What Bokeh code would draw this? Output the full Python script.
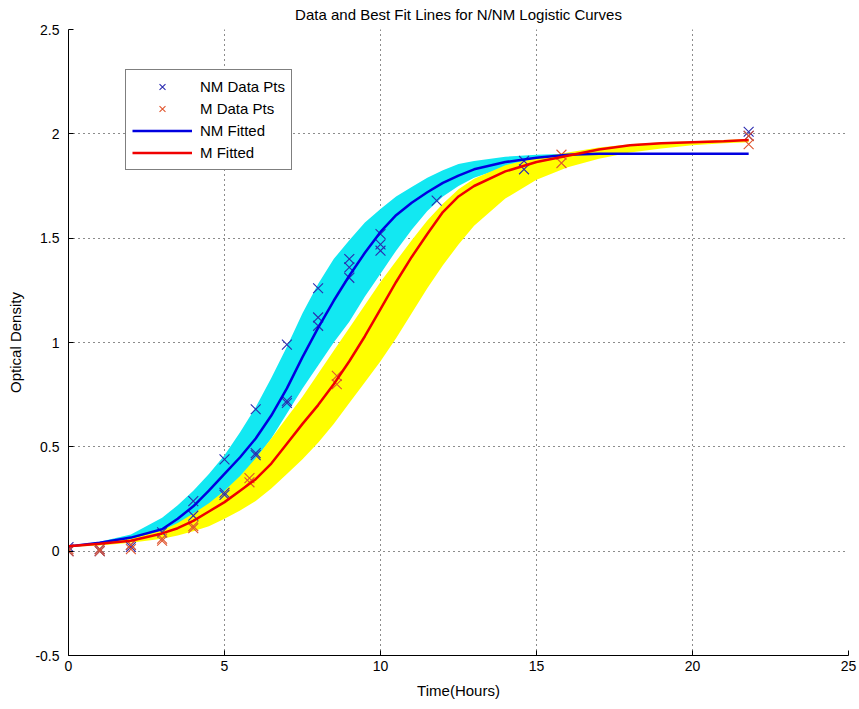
from bokeh.plotting import figure
from bokeh.models import (Range1d, FixedTicker, CustomJSTickFormatter, Legend, LegendItem)
from bokeh.embed import file_html
from bokeh.resources import INLINE

# ---------------- data ----------------
title = "Data and Best Fit Lines for N/NM Logistic Curves"
x_label = "Time(Hours)"
y_label = "Optical Density"
x_ticks = [0, 5, 10, 15, 20, 25]
y_ticks = [-0.5, 0, 0.5, 1, 1.5, 2, 2.5]

# measured data points (replicates share the same time)
nm_t = [0, 0, 1, 1, 2, 2, 3, 4, 4, 5, 5, 5, 6, 6, 6, 7, 7, 7, 8, 8, 8,
        9, 9, 9, 10, 10, 10, 11.8, 14.6, 14.6, 21.8, 21.8]
nm_od = [0.02, 0.0, 0.0, 0.01, 0.03, 0.02, 0.09, 0.24, 0.17, 0.44, 0.28, 0.27,
         0.68, 0.47, 0.46, 0.99, 0.72, 0.71, 1.26, 1.12, 1.08,
         1.40, 1.36, 1.31, 1.52, 1.47, 1.44, 1.68, 1.87, 1.83, 2.01, 1.99]

m_t = [0, 0, 1, 1, 2, 2, 3, 3, 4, 4, 5.8, 5.8, 8.6, 8.6, 15.8, 15.8, 21.8, 21.8]
m_od = [0.0, 0.01, 0.0, 0.01, 0.03, 0.01, 0.06, 0.05, 0.12, 0.11, 0.35, 0.33,
        0.84, 0.80, 1.90, 1.86, 1.99, 1.95]

# fitted curves and their bands, read at these times
fit_t = [0, 1, 2, 3, 3.5, 4, 4.5, 5, 5.5, 6, 6.5, 7, 7.5, 8, 8.5, 9, 9.5, 10,
         10.5, 11, 11.5, 12, 12.5, 13, 14, 15, 16, 17, 18, 19, 20, 21, 21.8]
nm_fit = [0.023, 0.04, 0.065, 0.105, 0.155, 0.215, 0.29, 0.37, 0.45, 0.54, 0.65,
          0.78, 0.93, 1.07, 1.20, 1.32, 1.43, 1.53, 1.61, 1.67, 1.72, 1.765, 1.80,
          1.83, 1.865, 1.885, 1.90, 1.905, 1.905, 1.905, 1.905, 1.905, 1.905]
m_fit = [0.023, 0.035, 0.05, 0.085, 0.11, 0.145, 0.19, 0.235, 0.29, 0.345, 0.42,
         0.515, 0.61, 0.70, 0.80, 0.91, 1.03, 1.16, 1.29, 1.41, 1.52, 1.625, 1.70,
         1.75, 1.82, 1.865, 1.895, 1.925, 1.945, 1.955, 1.96, 1.965, 1.97]
nm_band_hi = [0.025, 0.045, 0.08, 0.16, 0.22, 0.29, 0.37, 0.46, 0.57, 0.69, 0.83,
              0.98, 1.14, 1.28, 1.40, 1.49, 1.575, 1.64, 1.70, 1.745, 1.79, 1.825,
              1.855, 1.87, 1.89, 1.90, 1.905, 1.905, 1.905, 1.905, 1.905, 1.905, 1.905]
nm_band_lo = [0.02, 0.033, 0.05, 0.075, 0.10, 0.14, 0.19, 0.26, 0.34, 0.44, 0.54,
              0.66, 0.78, 0.89, 1.00, 1.10, 1.22, 1.33, 1.44, 1.54, 1.63, 1.70,
              1.75, 1.79, 1.84, 1.87, 1.89, 1.90, 1.905, 1.905, 1.905, 1.905, 1.905]
m_band_hi = [0.025, 0.038, 0.06, 0.10, 0.135, 0.18, 0.23, 0.29, 0.36, 0.445, 0.54,
             0.64, 0.74, 0.85, 0.96, 1.07, 1.18, 1.29, 1.39, 1.49, 1.585, 1.665,
             1.735, 1.785, 1.85, 1.885, 1.91, 1.935, 1.95, 1.96, 1.965, 1.97, 1.975]
m_band_lo = [0.02, 0.027, 0.04, 0.06, 0.075, 0.095, 0.12, 0.155, 0.195, 0.24, 0.30,
             0.37, 0.44, 0.52, 0.61, 0.71, 0.81, 0.91, 1.02, 1.14, 1.26, 1.37, 1.47,
             1.56, 1.69, 1.78, 1.84, 1.88, 1.91, 1.93, 1.945, 1.955, 1.96]

FONT = "Liberation Sans"

p = figure(width=859, height=709, output_backend="svg", toolbar_location=None,
           x_range=Range1d(0, 25), y_range=Range1d(-0.5, 2.5),
           min_border_left=68, min_border_right=11, min_border_top=29,
           min_border_bottom=54, background_fill_color="white",
           border_fill_color="white")
p.outline_line_color = None

p.title.text = title
p.title.align = "center"
p.title.text_font = FONT
p.title.text_font_size = "15px"
p.title.text_font_style = "normal"
p.title.text_color = "black"
p.title.standoff = 10
p.title.vertical_align = "top"

for ax, ticks in ((p.xaxis, x_ticks), (p.yaxis, y_ticks)):
    ax.ticker = FixedTicker(ticks=ticks)
    ax.formatter = CustomJSTickFormatter(code="return String(tick);")
    ax.major_tick_in = 5
    ax.major_tick_out = 0
    ax.minor_tick_line_color = None
    ax.axis_line_color = "black"
    ax.major_tick_line_color = "black"
    ax.major_label_text_font = FONT
    ax.major_label_text_font_size = "14px"
    ax.major_label_text_color = "black"
    ax.axis_label_text_font = FONT
    ax.axis_label_text_font_size = "15px"
    ax.axis_label_text_font_style = "normal"
    ax.axis_label_text_color = "black"

p.xaxis.axis_label = x_label
p.yaxis.axis_label = y_label
p.xaxis.major_label_standoff = 5
p.xaxis.axis_label_standoff = 8
p.yaxis.major_label_standoff = 9
p.yaxis.axis_label_standoff = 8

for g in (p.xgrid, p.ygrid):
    g.grid_line_color = "black"
    g.grid_line_dash = "1 4"
    g.grid_line_width = 1
    g.grid_line_alpha = 0.9
p.xgrid.ticker = FixedTicker(ticks=x_ticks)
p.ygrid.ticker = FixedTicker(ticks=y_ticks)

# bands
p.varea(x=fit_t, y1=nm_band_lo, y2=nm_band_hi, fill_color="#12e8f2")
p.varea(x=fit_t, y1=m_band_lo, y2=m_band_hi, fill_color="#ffff00")

# data points
r_nm = p.scatter(nm_t, nm_od, marker="x", size=14, line_color="#2b2bb0", line_width=1.1)
r_m = p.scatter(m_t, m_od, marker="x", size=14, line_color="#e0552e", line_width=1.1)

# fitted lines
r_nmf = p.line(fit_t, nm_fit, line_color="#0000e0", line_width=2.5)
r_mf = p.line(fit_t, m_fit, line_color="#f00000", line_width=2.5)

legend = Legend(items=[
    LegendItem(label="NM Data Pts", renderers=[r_nm]),
    LegendItem(label="M Data Pts", renderers=[r_m]),
    LegendItem(label="NM Fitted", renderers=[r_nmf]),
    LegendItem(label="M Fitted", renderers=[r_mf]),
], location=(57, 485))
legend.border_line_color = "black"
legend.border_line_width = 1
legend.background_fill_color = "white"
legend.background_fill_alpha = 1
legend.label_text_font = FONT
legend.label_text_font_size = "15px"
legend.label_text_color = "black"
legend.padding = 6
legend.spacing = 1
legend.margin = 0
legend.glyph_width = 60
legend.glyph_height = 21
legend.label_height = 21
legend.label_standoff = 8
p.add_layout(legend, "center")

open("out.html", "w").write(file_html(p, INLINE))
